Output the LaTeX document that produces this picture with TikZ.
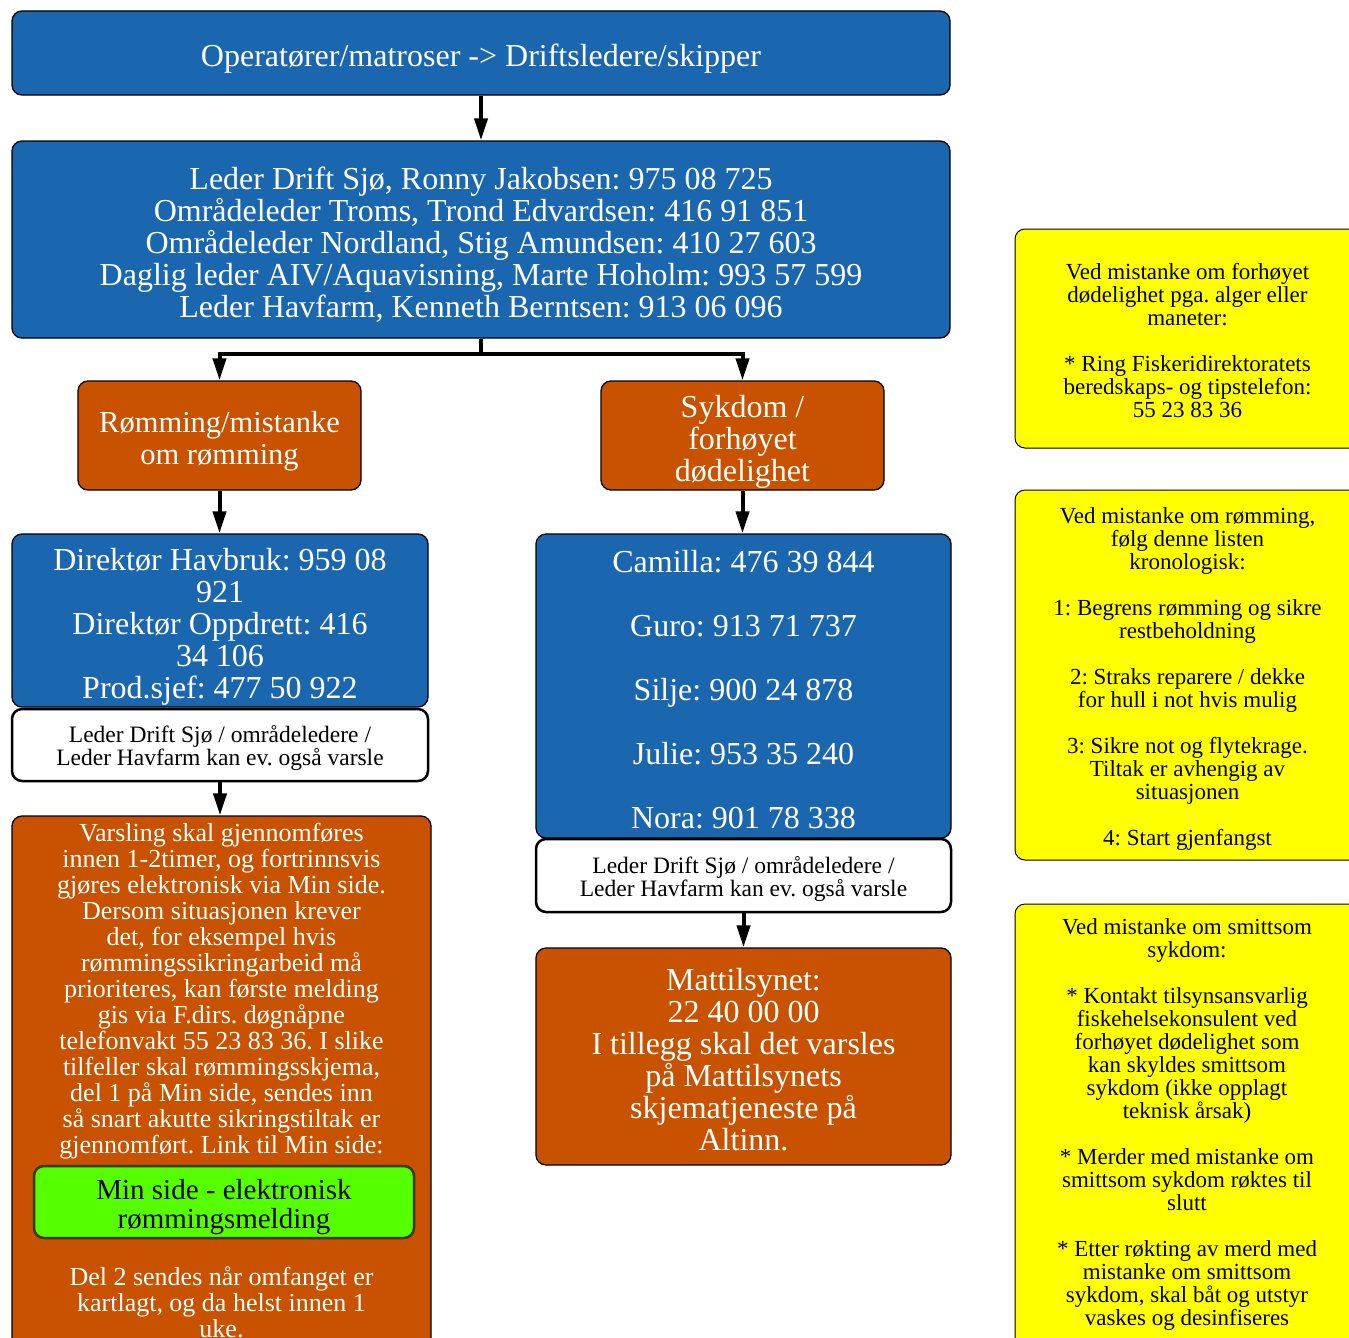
\documentclass[tikz,border=0pt]{standalone}
\usepackage{fontspec}
\setmainfont{Liberation Serif}
\frenchspacing
\usetikzlibrary{arrows.meta}
\definecolor{bblue}{HTML}{1A67B0}
\definecolor{borange}{HTML}{C85200}
\definecolor{bgreen}{HTML}{55FF00}
\definecolor{bgreenb}{HTML}{3A3A00}
\definecolor{byellow}{HTML}{FFFF00}
\begin{document}
\begin{tikzpicture}[x=1pt,y=-1pt,
 box/.style={draw=black,line width=1.3pt,rounded corners=10pt,inner sep=0pt},
 bluebox/.style={box,fill=bblue},
 orangebox/.style={box,fill=borange},
 whitebox/.style={box,fill=white,line width=2.5pt},
 yellowbox/.style={box,fill=byellow,line width=1pt},
 greenbox/.style={box,fill=bgreen,draw=bgreenb,line width=2.5pt},
 txt/.style={align=center,inner sep=0pt},
 wtxt/.style={txt,text=white},
 big/.style={font=\fontsize{32}{32}\selectfont},
 bigb/.style={font=\fontsize{30.5}{31.5}\selectfont},
 small/.style={font=\fontsize{23.5}{23.5}\selectfont},
 mid/.style={font=\fontsize{26}{26}\selectfont},
 gfont/.style={font=\fontsize{29}{29}\selectfont},
 note/.style={font=\fontsize{23}{23}\selectfont},
 arr/.style={line width=4pt,-{Triangle[length=22pt,width=13pt]}},
]
\useasboundingbox (0,0) rectangle (1349,1338);
\fill[white] (0,0) rectangle (1349,1338);

% boxes
\node[bluebox,minimum width=938,minimum height=84] (top) at (481,53) {};
\node[bluebox,minimum width=938,minimum height=197] (box2) at (481,239.5) {};
\node[orangebox,minimum width=283,minimum height=109] (romm) at (219.5,435.5) {};
\node[orangebox,minimum width=283,minimum height=109] (syk) at (742.5,435.5) {};
\node[bluebox,minimum width=416,minimum height=173] (dir) at (220,620.5) {};
\node[whitebox,minimum width=416,minimum height=72] (lederA) at (220,745) {};
\node[orangebox,minimum width=419,minimum height=534] (vars) at (221.5,1083) {};
\node[greenbox,minimum width=380,minimum height=72] (minside) at (224,1202) {};
\node[bluebox,minimum width=415,minimum height=304] (contacts) at (743.5,686) {};
\node[whitebox,minimum width=415,minimum height=73] (lederB) at (743.5,875.5) {};
\node[orangebox,minimum width=415,minimum height=217] (matt) at (743.5,1056.5) {};
\node[yellowbox,minimum width=345,minimum height=219] (y1) at (1187.5,338.5) {};
\node[yellowbox,minimum width=345,minimum height=370] (y2) at (1187.5,675) {};
\node[yellowbox,minimum width=345,minimum height=446] (y3) at (1187.5,1127) {};

% texts
\node[wtxt,big] (topT) at ([shift={(0,6)}]top.center) {Operatører/matroser -> Driftsledere/skipper};
\node[wtxt,big] (box2T) at ([shift={(0,5.5)}]box2.center) {Leder Drift Sjø, Ronny Jakobsen: 975 08 725\\Områdeleder Troms, Trond Edvardsen: 416 91 851\\Områdeleder Nordland, Stig Amundsen: 410 27 603\\Daglig leder AIV/Aquavisning, Marte Hoholm: 993 57 599\\Leder Havfarm, Kenneth Berntsen: 913 06 096};
\node[wtxt,bigb] (rommT) at ([shift={(0,5.5)}]romm.center) {Rømming/mistanke\\om rømming};
\node[wtxt,big] (sykT) at ([shift={(0,6.5)}]syk.center) {Sykdom /\\forhøyet\\dødelighet};
\node[wtxt,big] (dirT) at ([shift={(0,6.5)}]dir.center) {Direktør Havbruk: 959 08\\921\\Direktør Oppdrett: 416\\34 106\\Prod.sjef: 477 50 922};
\node[txt,small] (lederAT) at ([shift={(0,3)}]lederA.center) {Leder Drift Sjø / områdeledere /\\Leder Havfarm kan ev. også varsle};
\node[wtxt,mid,anchor=north] (varsT) at (221.5,823) {Varsling skal gjennomføres\\innen 1-2timer, og fortrinnsvis\\gjøres elektronisk via Min side.\\Dersom situasjonen krever\\det, for eksempel hvis\\rømmingssikringarbeid må\\prioriteres, kan første melding\\gis via F.dirs. døgnåpne\\telefonvakt 55 23 83 36. I slike\\tilfeller skal rømmingsskjema,\\del 1 på Min side, sendes inn\\så snart akutte sikringstiltak er\\gjennomført. Link til Min side:};
\node[txt,gfont] (minsideT) at ([shift={(0,5)}]minside.center) {Min side - elektronisk\\rømmingsmelding};
\node[wtxt,mid,anchor=north] (del2T) at (221.5,1266) {Del 2 sendes når omfanget er\\kartlagt, og da helst innen 1\\uke.};
\node[wtxt,big] (contactsT) at ([shift={(0,3.5)}]contacts.center) {Camilla: 476 39 844\\[32pt]Guro: 913 71 737\\[32pt]Silje: 900 24 878\\[32pt]Julie: 953 35 240\\[32pt]Nora: 901 78 338};
\node[txt,small] (lederBT) at ([shift={(0,3.5)}]lederB.center) {Leder Drift Sjø / områdeledere /\\Leder Havfarm kan ev. også varsle};
\node[wtxt,big] (mattT) at ([shift={(0,3.5)}]matt.center) {Mattilsynet:\\22 40 00 00\\I tillegg skal det varsles\\på Mattilsynets\\skjematjeneste på\\Altinn.};
\node[txt,note] (y1T) at ([shift={(0,2)}]y1.center) {Ved mistanke om forhøyet\\dødelighet pga. alger eller\\maneter:\\[23pt]* Ring Fiskeridirektoratets\\beredskaps- og tipstelefon:\\55 23 83 36};
\node[txt,note] (y2T) at ([shift={(0,4)}]y2.center) {Ved mistanke om rømming,\\følg denne listen\\kronologisk:\\[23pt]1: Begrens rømming og sikre\\restbeholdning\\[23pt]2: Straks reparere / dekke\\for hull i not hvis mulig\\[23pt]3: Sikre not og flytekrage.\\Tiltak er avhengig av\\situasjonen\\[23pt]4: Start gjenfangst};
\node[txt,note,anchor=north] (y3T) at (1187,918) {Ved mistanke om smittsom\\sykdom:\\[23pt]* Kontakt tilsynsansvarlig\\fiskehelsekonsulent ved\\forhøyet dødelighet som\\kan skyldes smittsom\\sykdom (ikke opplagt\\teknisk årsak)\\[23pt]* Merder med mistanke om\\smittsom sykdom røktes til\\slutt\\[23pt]* Etter røkting av merd med\\mistanke om smittsom\\sykdom, skal båt og utstyr\\vaskes og desinfiseres};

% connectors
\draw[arr] (top.south) -- (box2.north);
\draw[arr] (box2.south) -- ++(0,15) -| (romm.north);
\draw[arr] (box2.south) -- ++(0,15) -| (syk.north);
\draw[arr] (romm.south) -- (romm.south |- dir.north);
\draw[arr] (syk.south) -- (syk.south |- contacts.north);
\draw[arr] (lederA.south) -- (lederA.south |- vars.north);
\draw[arr] (lederB.south) -- (lederB.south |- matt.north);
\end{tikzpicture}
\end{document}
